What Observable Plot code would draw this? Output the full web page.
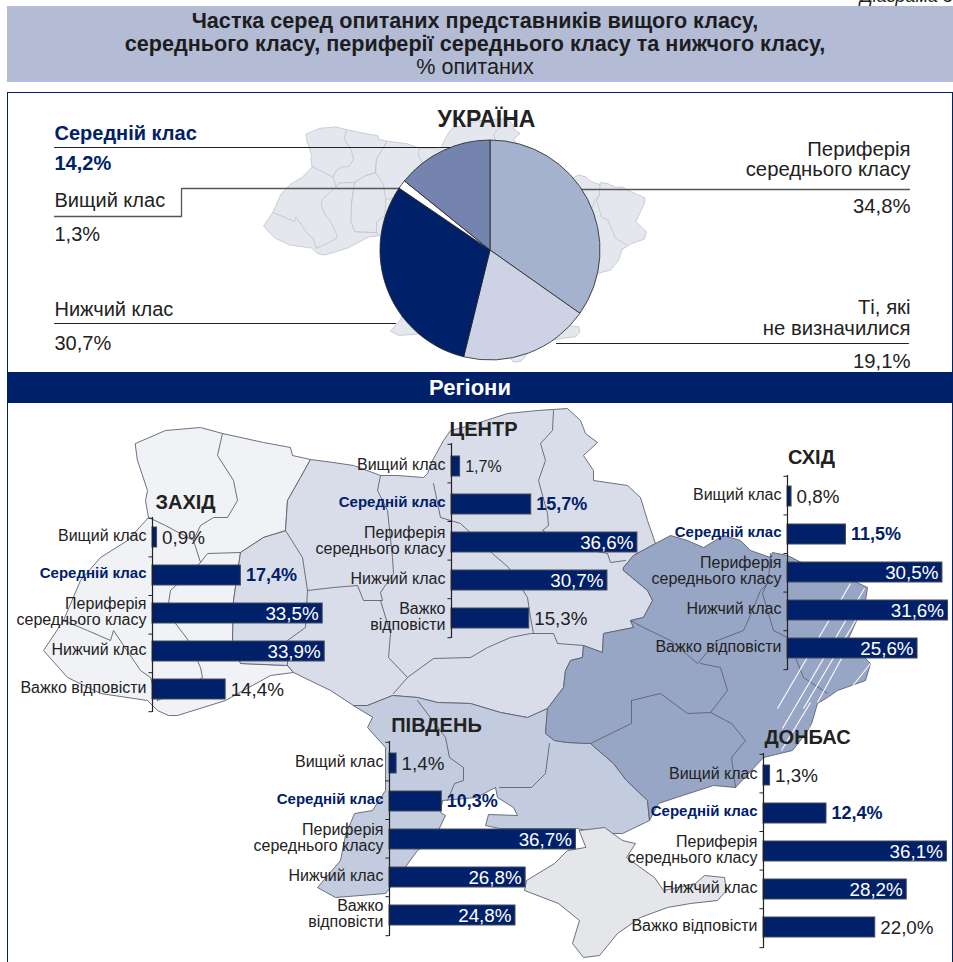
<!DOCTYPE html>
<html lang="uk"><head><meta charset="utf-8">
<script src="https://cdn.jsdelivr.net/npm/d3@7"></script>
<script src="https://cdn.jsdelivr.net/npm/@observablehq/plot@0.6"></script>
<style>
html,body{margin:0;padding:0;background:#fff;overflow:hidden}
#stage{position:relative;width:953px;height:962px;overflow:hidden;font-family:"Liberation Sans",Arial,sans-serif;color:#222}
#stage svg{position:absolute;left:0;overflow:visible}
.note{position:absolute;right:0;top:-14px;font-style:italic;font-size:18px;line-height:21px;white-space:nowrap}
.head{position:absolute;left:7px;top:6px;width:946px;height:76px;background:#b3bcd4;text-align:center;box-sizing:border-box;font-size:21.6px;line-height:23px;padding-top:2.5px;padding-right:10px;color:#1d1d1f}
.head b{font-weight:bold}
.frame{position:absolute;left:7px;top:92px;width:944px;height:880px;border:1px solid #00206a}
.band{position:absolute;left:7px;top:372px;width:946px;height:31px;background:#00206a;color:#fff;font-weight:bold;font-size:22px;line-height:32px;text-align:center;box-sizing:border-box;padding-right:20px}
</style></head><body><div id="stage">
<div class="note">Діаграма 5</div>
<div class="head"><b>Частка серед опитаних представників вищого класу,<br>середнього класу, периферії середнього класу та нижчого класу,</b><br>% опитаних</div>
<div class="frame"></div>
</div>
<script>
// ---------- values ----------
const pieClasses = ["Периферія середнього класу","Ті, які не визначилися","Нижчий клас","Вищий клас","Середній клас"];
const pieValues  = [34.8,19.1,30.7,1.3,14.2];
const pieColors  = ["#a5b2cd","#cdd3e4","#00206a","#ffffff","#7484ae"];

const longLabels  = ["Вищий клас","Середній клас","Периферія\nсереднього класу","Нижчий клас","Важко відповісти"];
const shortLabels = ["Вищий клас","Середній клас","Периферія\nсереднього класу","Нижчий клас","Важко\nвідповісти"];
const westValues   = [0.9,17.4,33.5,33.9,14.4];
const centreValues = [1.7,15.7,36.6,30.7,15.3];
const eastValues   = [0.8,11.5,30.5,31.6,25.6];
const southValues  = [1.4,10.3,36.7,26.8,24.8];
const donbasValues = [1.3,12.4,36.1,28.2,22.0];

// ---------- map outlines, in map units ----------
const westShape = [[135,443],[165,430],[200,427],[222,433],[263,442],[290,447],[292,455],[310,459],[300,477],[287,500],[285,530],[263,537],[240,552],[233,600],[232,640],[240,663],[287,665],[293,672],[270,675],[225,700],[177,715],[168,715],[157,710],[147,700],[100,693],[67,677],[43,650],[63,620],[80,580],[100,557],[127,540],[148,517],[145,500],[147,490],[137,460]];
const centreShape = [[285,530],[287,500],[300,477],[310,459],[333,462],[353,465],[380,475],[397,475],[423,477],[427,473],[432,460],[443,440],[450,430],[470,425],[507,413],[537,410],[567,408],[580,420],[585,433],[597,442],[583,455],[593,470],[593,480],[627,485],[640,497],[647,520],[655,543],[633,555],[623,567],[623,570],[647,590],[652,600],[643,617],[630,620],[633,627],[603,633],[602,652],[583,645],[582,657],[570,660],[565,670],[563,687],[547,708],[527,717],[500,712],[470,703],[437,702],[417,697],[392,695],[367,705],[353,705],[330,690],[293,672],[287,665],[240,663],[232,640],[233,600],[240,552],[263,537]];
const eastShape = [[623,567],[633,555],[655,543],[670,535],[687,540],[703,547],[723,535],[740,540],[750,550],[770,557],[772,552],[787,555],[803,563],[817,562],[837,573],[867,587],[865,600],[853,627],[847,640],[870,663],[865,680],[837,690],[827,697],[817,703],[810,727],[792,750],[763,757],[735,787],[713,785],[676,797],[658,803],[649,820],[647,800],[626,780],[613,763],[590,743],[567,742],[554,740],[545,733],[547,708],[563,687],[565,670],[570,660],[582,657],[583,645],[602,652],[603,633],[633,627],[630,620],[643,617],[652,600],[647,590],[623,570]];
const southShape = [[353,705],[367,705],[392,695],[417,697],[437,702],[470,703],[500,712],[527,717],[547,708],[545,733],[554,740],[567,742],[590,743],[613,763],[626,780],[647,800],[649,820],[645,822],[622,833],[604,833],[576,828],[499,828],[485,825],[488,814],[517,815],[513,807],[497,797],[495,787],[476,797],[442,800],[440,812],[445,815],[433,840],[417,850],[390,887],[385,893],[335,897],[317,887],[340,860],[345,835],[354,813],[372,810],[385,790],[385,747],[367,727],[372,717]];
const crimeaShape = [[579,830],[604,827],[622,840],[635,843],[626,857],[654,877],[663,890],[695,883],[704,875],[724,877],[726,890],[717,900],[690,903],[667,907],[640,917],[617,933],[599,955],[583,957],[572,943],[579,920],[558,903],[524,890],[526,880],[554,863],[567,850],[585,847]];
const innerBorders = [
 [[222,433],[217,455],[233,480],[237,500],[227,517],[213,517],[200,525],[193,540],[200,562],[207,553],[240,552]],
 [[148,517],[165,525],[193,540]],
 [[200,562],[170,590],[168,603],[175,623],[188,640],[200,667],[202,677],[180,690],[157,700]],
 [[63,620],[87,630],[110,640],[113,630],[140,670],[150,677],[157,700]],
 [[380,475],[377,490],[387,510],[392,557],[393,573],[380,592],[382,600],[363,600],[357,585],[333,587],[307,590],[302,557],[285,530]],
 [[307,590],[305,627],[287,640],[287,665]],
 [[380,600],[390,633],[388,657],[407,677],[393,693]],
 [[407,677],[433,658],[470,657],[487,647],[510,637],[530,633],[553,633],[557,643],[583,645]],
 [[433,483],[440,517],[460,523],[492,553],[508,567],[527,597],[530,617],[533,633]],
 [[553,410],[552,430],[540,443],[545,460],[538,480],[547,513],[548,525],[542,530],[565,545],[607,553],[610,562],[625,560]],
 [[630,620],[643,627],[670,640],[697,663],[717,640],[743,630],[752,610],[760,590],[770,580]],
 [[770,553],[768,580],[762,593],[773,630],[787,637],[803,677],[827,693]],
 [[631,700],[660,693],[687,713],[710,712],[727,690],[720,667],[700,663]],
 [[631,700],[631,723],[590,743]],
 [[710,712],[731,723],[745,740],[731,757],[735,787]],
 [[417,700],[445,737],[449,757],[463,767],[463,780],[454,783],[447,800]],
 [[549,743],[545,773],[531,787],[499,787]]
];
const hatchX1 = [777,782,803,817,843,781,800];
const hatchY1 = [708,728,708,702,697,750,745];
const hatchX2 = [850,864,867,860,870,810,822];
const hatchY2 = [583,588,600,623,663,702,706];

// ---------- annotation layout for the top panel ----------
const leaderPaths = [
 [[54,147],[450,147]],
 [[54,216],[181,216],[181,188],[403,188]],
 [[581,189],[909,189]],
 [[54,323],[395,323]],
 [[556,343],[908,343]]
];
const pieTexts = [
 {t:"Середній клас",x:54,y:133,a:"start",b:1},{t:"14,2%",x:54,y:163,a:"start",b:1},
 {t:"Вищий клас",x:54,y:200,a:"start"},{t:"1,3%",x:54,y:234,a:"start"},
 {t:"Нижчий клас",x:54,y:309,a:"start"},{t:"30,7%",x:54,y:343,a:"start"},
 {t:"Периферія",x:910,y:149,a:"end"},{t:"середнього класу",x:910,y:169,a:"end"},{t:"34,8%",x:910,y:206,a:"end"},
 {t:"Ті, які",x:910,y:307,a:"end"},{t:"не визначилися",x:910,y:328,a:"end"},{t:"19,1%",x:910,y:361,a:"end"}
];
const panelTitles = [
 {t:"УКРАЇНА",x:486,y:119,s:23},{t:"ЗАХІД",x:185,y:502,s:20},{t:"ЦЕНТР",x:483,y:429,s:20},{t:"СХІД",x:811,y:457,s:20},{t:"ПІВДЕНЬ",x:436,y:725,s:20},{t:"ДОНБАС",x:807,y:737,s:20}
];

const NAVY="#00206a", W=953, H=962, FONT='"Liberation Sans",Arial,sans-serif';
const stage=document.getElementById("stage");
const add=(svg,top=0)=>{svg.style.top=top+"px";stage.appendChild(svg);return svg;};
const pageScales={x:{domain:[0,W],range:[0,W]},y:{domain:[0,H],range:[0,H]}};
const base={width:W,height:H,margin:0,style:{background:"transparent",fontFamily:FONT}};
const shape=(pts,fill,stroke,sw=0.9)=>Plot.line(pts,{x:d=>d[0],y:d=>d[1],fill,stroke,strokeWidth:sw,curve:"linear-closed"});

// small map behind the pie
add(Plot.plot({...base,axis:null,
 x:{domain:[43,870],range:[263,646]},y:{domain:[408,960],range:[118,363]},
 marks:[
  ...[westShape,centreShape,eastShape,southShape,crimeaShape].map(s=>shape(s,"#e4e7ee","#b9bdc7",0.7)),
  ...innerBorders.map(b=>Plot.line(b,{x:d=>d[0],y:d=>d[1],stroke:"#b9bdc7",strokeWidth:0.7}))
 ]}));

// pie, leaders and texts of the top panel
function pieMark(index,{x,y}){
 const g=d3.create("svg:g").attr("transform",`translate(${x(490)},${y(250)})`);
 const arc=d3.arc().innerRadius(0).outerRadius(110);
 g.selectAll("path").data(d3.pie().sort(null)(pieValues)).join("path")
  .attr("d",arc).attr("fill",(d,i)=>pieColors[i]).attr("stroke","#222").attr("stroke-width",0.8);
 g.selectAll("path").append("title").text((d,i)=>pieClasses[i]+": "+pieValues[i]+"%");
 return g.node();
}
add(Plot.plot({...base,axis:null,...pageScales,marks:[
 ...leaderPaths.map((l,i)=>Plot.line(l,{x:d=>d[0],y:d=>d[1],stroke:i==2||i==1?"#555":"#222",strokeWidth:i==2||i==1?1.3:1})),
 pieMark,
 Plot.text(pieTexts.filter(d=>d.a=="start"&&!d.b),{x:"x",y:"y",text:"t",textAnchor:"start",fontSize:20,fill:"#222"}),
 Plot.text(pieTexts.filter(d=>d.a=="end"),{x:"x",y:"y",text:"t",textAnchor:"end",fontSize:20.3,fill:"#222"}),
 Plot.text(pieTexts.filter(d=>d.b),{x:"x",y:"y",text:"t",textAnchor:"start",fontSize:20,fontWeight:"bold",fill:NAVY})
]}));

// big map
add(Plot.plot({...base,axis:null,...pageScales,marks:[
 shape(westShape,"#f1f2f6","#5d6270"),
 shape(centreShape,"#d9dde9","#5d6270"),
 shape(southShape,"#c3cbdf","#5d6270"),
 shape(eastShape,"#98a6c5","#5d6270"),
 shape(crimeaShape,"#e4e6ea","#5d6270"),
 ...innerBorders.map(b=>Plot.line(b,{x:d=>d[0],y:d=>d[1],stroke:"#5d6270",strokeWidth:0.9})),
 Plot.link(hatchX1,{x1:hatchX1,y1:hatchY1,x2:hatchX2,y2:hatchY2,stroke:"#fff",strokeWidth:1.1}),
 Plot.text(panelTitles,{x:"x",y:"y",text:"t",fontSize:"s",fontWeight:"bold",fill:"#222"})
]}));

const band=document.createElement("div");band.className="band";band.textContent="Регіони";stage.appendChild(band);

// bar panels
const pct=v=>d3.format(".1f")(v).replace(".",",")+"%";
function panel(labels,values,axisX,axisTop,shift,firstFont=18.8){
 const rows=labels.map((label,i)=>({label,value:values[i],i}));
 const mid=labels[1], rest=labels.filter(l=>l!==mid);
 const inside=rows.filter(d=>d.value>=24), outside=rows.filter(d=>d.value<24&&d.i!=1), mids=rows.filter(d=>d.i==1);
 const font=d=>d.i==0?firstFont:18.8;
 const maxX=(W-axisX)/5.08;
 return add(Plot.plot({
  width:W,height:203,marginLeft:axisX,marginRight:0,marginTop:4,marginBottom:4,
  style:{background:"transparent",fontFamily:FONT},
  x:{domain:[0,maxX],axis:null},
  y:{domain:labels,range:[4+shift,196+shift],paddingInner:0.48,paddingOuter:0.24,axis:null},
  marks:[
   Plot.barX(rows,{x:"value",y:"label",fill:NAVY,stroke:"#444b5a",strokeWidth:1}),
   Plot.ruleX([0],{stroke:"#222",strokeWidth:1.2}),
   ...labels.map((l,i)=>Plot.ruleY([l],{y:d=>d,dy:-19.2-shift+0.6*i,x1:-0.7,x2:0,stroke:"#222",strokeWidth:1})),
   Plot.ruleY([labels[4]],{y:d=>d,dy:19.8+2.4-shift,x1:-0.7,x2:0,stroke:"#222",strokeWidth:1}),
   Plot.axisY(rest,{label:null,tickSize:0,tickPadding:6,dy:-2,fontSize:16,lineHeight:1,fill:"#222"}),
   Plot.axisY([mid],{label:null,tickSize:0,tickPadding:6,dy:-2,fontSize:15,fontWeight:"bold",fill:NAVY}),
   Plot.text(inside,{x:"value",y:"label",text:d=>pct(d.value),dx:-4,textAnchor:"end",fill:"#fff",fontSize:18.8}),
   Plot.text(outside,{x:"value",y:"label",text:d=>pct(d.value),dx:5,textAnchor:"start",fill:"#222",fontSize:font}),
   Plot.text(mids,{x:"value",y:"label",text:d=>pct(d.value),dx:5,textAnchor:"start",fill:NAVY,fontWeight:"bold",fontSize:18})
  ]}),axisTop-4);
}
panel(longLabels,westValues,152,517,0);
panel(shortLabels,centreValues,451,443,3,16);
panel(longLabels,eastValues,787,475,1);
panel(shortLabels,southValues,389,741,2);
panel(longLabels,donbasValues,763,753,2);
</script></body></html>
